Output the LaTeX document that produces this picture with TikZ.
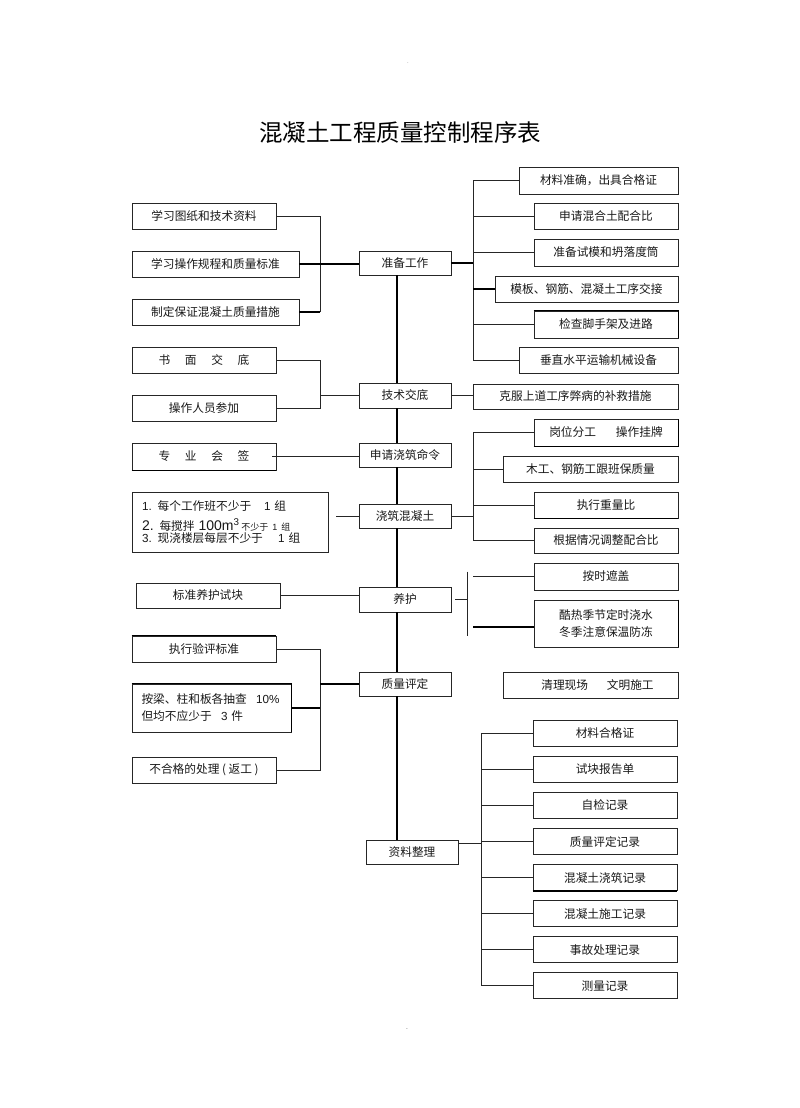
\documentclass[tikz,border=0pt]{standalone}
\usepackage{fontspec}
\setmainfont{Noto Sans CJK SC}
\newfontfamily\arialf{Liberation Sans}
\usetikzlibrary{calc}
\tikzset{
  box/.style={draw=black!85, line width=0.8pt, fill=white, inner sep=0pt,
              font=\fontsize{11.7}{14}\selectfont, text=black!90},
  conn/.style={draw=black!85, line width=0.9pt},
  tconn/.style={draw=black, line width=2pt},
  spine/.style={draw=black, line width=2.6pt},
  edgeline/.style={draw=black, line width=1.5pt},
}
\newcommand\mybox[6]{\node[box, minimum width=#4pt, minimum height=#5pt] (#1) at (#2,#3) {#6};}
\begin{document}
\begin{tikzpicture}[x=1pt,y=-1pt]
\useasboundingbox (0,0) rectangle (800,1108);
\fill[white] (0,0) rectangle (800,1108);

\node[font=\fontsize{6}{6}\selectfont, text=black!50] (hdr) at (408,63) {.};
\node[font=\fontsize{6}{6}\selectfont, text=black!50] (ftr) at (407,1030) {-};

\node[font=\fontsize{23.5}{26}\selectfont] (title) at (400,133) {混凝土工程质量控制程序表};

% left column
\mybox{L1}{204}{216}{144}{26}{学习图纸和技术资料}
\mybox{L2}{215.5}{264}{167}{26}{学习操作规程和质量标准}
\mybox{L3}{215.5}{312}{167}{26}{制定保证混凝土质量措施}
\mybox{L4}{204}{360}{144}{26}{书\hspace{1.25em}面\hspace{1.25em}交\hspace{1.25em}底}
\mybox{L5}{204}{408}{144}{26}{操作人员参加}
\mybox{L6}{204}{456.5}{144}{27}{专\hspace{1.25em}业\hspace{1.25em}会\hspace{1.25em}签}
\node[box, minimum width=196pt, minimum height=60pt, text width=176pt, align=left] (L7) at (230,522)
 {{\arialf 1.}\hspace{0.5em}每个工作班不少于\hspace{1.1em}{\arialf 1} 组\\[6pt]
  {\fontsize{14}{14}\selectfont\arialf 2.}\hspace{0.5em}每搅拌 {\fontsize{14}{14}\selectfont\arialf 100m\textsuperscript{3}}\,{\fontsize{9}{10}\selectfont 不少于 {\arialf 1} 组}\\[-2pt]
  {\arialf 3.}\hspace{0.5em}现浇楼层每层不少于\hspace{1.3em}{\arialf 1} 组};
\mybox{L8}{208}{595.5}{144}{25}{标准养护试块}
\mybox{L9}{204}{649}{144}{26}{执行验评标准}
\node[box, minimum width=159pt, minimum height=48pt, text width=140pt, align=left,
      font=\fontsize{11.7}{17}\selectfont] (L10) at (211.5,708)
 {按梁、柱和板各抽查\hspace{0.8em}{\arialf 10\%}\\但均不应少于\hspace{0.8em}{\arialf 3} 件};
\mybox{L11}{204}{770}{144}{26}{不合格的处理 ( 返工 )}

% centre column
\mybox{C1}{405}{263}{92}{24}{准备工作}
\mybox{C2}{405}{395.5}{92}{25}{技术交底}
\mybox{C3}{405}{455}{92}{24}{申请浇筑命令}
\mybox{C4}{405}{516}{92}{24}{浇筑混凝土}
\mybox{C5}{405}{599.5}{92}{25}{养护}
\mybox{C6}{405}{684}{92}{24}{质量评定}
\mybox{C7}{412}{852}{92}{24}{资料整理}

% right column
\mybox{R1}{598.5}{180.5}{159}{27}{材料准确，出具合格证}
\mybox{R2}{606}{216}{144}{26}{申请混合土配合比}
\mybox{R3}{606}{252.5}{144}{27}{准备试模和坍落度筒}
\mybox{R4}{586.5}{289}{183}{26}{模板、钢筋、混凝土工序交接}
\mybox{R5}{606}{324.5}{144}{27}{检查脚手架及进路}
\mybox{R6}{598.5}{360}{159}{26}{垂直水平运输机械设备}
\mybox{R7}{575.5}{396.5}{205}{25}{克服上道工序弊病的补救措施}
\mybox{R8}{606}{432.5}{144}{27}{岗位分工\hspace{1.7em}操作挂牌}
\mybox{R9}{590.5}{469}{175}{26}{木工、钢筋工跟班保质量}
\mybox{R10}{606}{505}{144}{26}{执行重量比}
\mybox{R11}{606}{540.5}{144}{25}{根据情况调整配合比}
\mybox{R12}{606}{576.5}{144}{27}{按时遮盖}
\node[box, minimum width=144pt, minimum height=47pt, align=center,
      font=\fontsize{11.7}{17.7}\selectfont] (R13) at (606,623.5)
 {酷热季节定时浇水\\冬季注意保温防冻};
\node[box, minimum width=175pt, minimum height=26pt] (R14) at (590.5,685)
 {\hspace{14pt}清理现场\hspace{1.6em}文明施工};

% record boxes
\mybox{D1}{605}{733}{144}{26}{材料合格证}
\mybox{D2}{605}{769.5}{144}{26}{试块报告单}
\mybox{D3}{605}{805.5}{144}{26}{自检记录}
\mybox{D4}{605}{841.7}{144}{26}{质量评定记录}
\mybox{D5}{605}{877.8}{144}{26}{混凝土浇筑记录}
\mybox{D6}{605}{913.7}{144}{26}{混凝土施工记录}
\mybox{D7}{605}{949.7}{144}{26}{事故处理记录}
\mybox{D8}{605}{985.7}{144}{26}{测量记录}

% heavier box edges
\draw[edgeline] (L6.south west) -- (L6.south east);
\draw[edgeline] (L9.north west) -- (L9.north east);
\draw[edgeline] (L10.north west) -- (L10.north east) -- (L10.south east);
\draw[edgeline] (R5.north west) -- (R5.north east) -- (R5.south east);
\draw[edgeline] (R8.south west) -- (R8.south east) -- (R8.north east);
\draw[edgeline] (R10.south west) -- (R10.south east);
\draw[edgeline] (R13.north east) -- (R13.south east);
\draw[edgeline] (D5.south west) -- (D5.south east);

% spine
\coordinate (sp) at (397,0);
\foreach \a/\b in {C1/C2,C2/C3,C3/C4,C4/C5,C5/C6,C6/C7}
  \draw[spine] (\a.south -| sp) -- (\b.north -| sp);

\coordinate (bxA) at (320,0);
\coordinate (bxB) at (473,0);
\coordinate (bxC) at (467,0);
\coordinate (bxD) at (481,0);

% 准备工作
\draw[conn] (L1.east) -- (L1.east -| bxA) -- (L3.east -| bxA);
\draw[tconn] (L3.east -| bxA) -- (L3.east);
\draw[tconn] (L2.east) -- (L2.east -| C1.west);
\draw[tconn] (C1.east) -- (C1.east -| bxB);
\draw[conn] (R1.west -| bxB) -- (R6.west -| bxB);
\foreach \r in {R1,R2,R3,R5,R6} \draw[conn] (\r.west -| bxB) -- (\r.west);
\draw[tconn] (R4.west -| bxB) -- (R4.west);

% 技术交底
\draw[conn] (L4.east) -- (L4.east -| bxA) -- (L5.east -| bxA) -- (L5.east);
\draw[conn] (C2.west -| bxA) -- (C2.west);
\draw[conn] (C2.east) -- (C2.east -| R7.west);

% 申请浇筑命令
\draw[conn] ($(L6.east)+(-4,0)$) -- (L6.east -| C3.west);

% 浇筑混凝土
\draw[conn] ($(L7.east |- C4.west)+(8,0)$) -- (C4.west);
\draw[conn] (C4.east) -- (C4.east -| bxB);
\draw[conn] (R8.west -| bxB) -- (R11.west -| bxB);
\foreach \r in {R8,R9,R10,R11} \draw[conn] (\r.west -| bxB) -- (\r.west);

% 养护
\draw[conn] (L8.east) -- (L8.east -| C5.west);
\draw[conn] ($(C5.east)+(4,0)$) -- (C5.east -| bxC);
\draw[conn] ($(R12.west -| bxC)+(0,-5)$) -- ($(R13.west -| bxC)+(0,12)$);
\draw[conn] (R12.west -| bxB) -- (R12.west);
\draw[tconn] ($(R13.west -| bxB)+(0,3)$) -- ($(R13.west)+(0,3)$);

% 质量评定
\draw[conn] (L9.east) -- (L9.east -| bxA) -- (L11.east -| bxA) -- (L11.east);
\draw[tconn] (L10.east) -- (L10.east -| bxA);
\draw[tconn] (C6.west -| bxA) -- (C6.west);

% 资料整理
\draw[conn] ($(C7.east)+(0,-9)$) -- ($(C7.east -| bxD)+(0,-9)$);
\draw[conn] (D1.west -| bxD) -- (D8.west -| bxD);
\foreach \d in {D1,D2,D3,D4,D5,D6,D7,D8} \draw[conn] (\d.west -| bxD) -- (\d.west);
\end{tikzpicture}
\end{document}
